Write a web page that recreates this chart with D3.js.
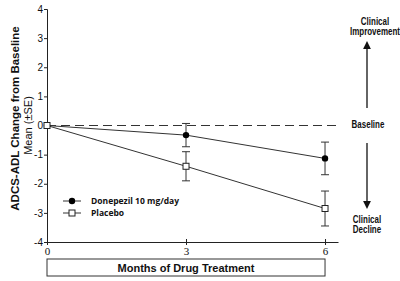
<!DOCTYPE html>
<html>
<head>
<meta charset="utf-8">
<script src="https://cdn.jsdelivr.net/npm/d3@7"></script>
<style>
  body { margin: 0; background: #fff; }
  text { font-family: "Liberation Sans", Arial, sans-serif; fill: #111; }
</style>
</head>
<body>
<div class="canvas"></div>
<script>
// data
const months = [0, 3, 6]
const donepezilMean = [0, -0.33, -1.13]
const donepezilSE = [0, 0.4, 0.56]
const placeboMean = [0, -1.4, -2.85]
const placeboSE = [0, 0.5, 0.6]
const yTicks = [4, 3, 2, 1, 0, -1, -2, -3, -4]
const seriesNames = ['Donepezil 10 mg/day', 'Placebo']

const dimension = { width: 400, height: 281 }
const margin = { left: 47, top: 9, right: 62, bottom: 39 }

const svg = d3.select('.canvas')
  .append('svg')
  .attr('width', dimension.width)
  .attr('height', dimension.height)

const x = d3.scaleLinear().domain([0, 6.28]).range([margin.left, dimension.width - margin.right])
const y = d3.scaleLinear().domain([-4, 4]).range([dimension.height - margin.bottom, margin.top])

// axes
const yAxis = svg.append('g')
  .attr('transform', `translate(${x(0)}, 0)`)
  .call(d3.axisLeft(y).tickValues(yTicks).tickSize(3).tickFormat(d3.format('d')))
yAxis.select('.domain').attr('stroke', '#222')
yAxis.selectAll('.tick line').attr('stroke', '#222')
yAxis.selectAll('text')
  .attr('font-size', 10)
  .attr('x', -4)
  .style('font-family', 'Arial, "Liberation Sans", sans-serif')
  .text(d => d < 0 ? '-' + Math.abs(d) : d)

const xAxis = svg.append('g')
  .attr('transform', `translate(0, ${y(-4)})`)
  .call(d3.axisBottom(x).tickValues(months).tickSize(3).tickSizeOuter(0).tickFormat(d3.format('d')))
xAxis.select('.domain').attr('stroke', '#222')
xAxis.selectAll('.tick line').attr('stroke', '#222').attr('y1', -3)
xAxis.selectAll('text')
  .attr('font-size', 11)
  .attr('y', 5)
  .style('font-family', '"Liberation Serif", "Times New Roman", serif')

// baseline dashed
svg.append('line')
  .attr('x1', x(0)).attr('x2', x(6.28))
  .attr('y1', y(0)).attr('y2', y(0))
  .attr('stroke', '#333')
  .attr('stroke-dasharray', '9,5')

// y titles
svg.append('text')
  .attr('transform', `translate(19, ${y(0) - 7}) rotate(-90)`)
  .attr('text-anchor', 'middle')
  .attr('font-size', 11.5)
  .attr('font-weight', 'bold')
  .text('ADCS-ADL Change from Baseline')
svg.append('text')
  .attr('transform', `translate(32, ${y(0)}) rotate(-90)`)
  .attr('text-anchor', 'middle')
  .attr('font-size', 11)
  .text('Mean (±SE)')

// x title box
svg.append('rect')
  .attr('x', x(0)).attr('y', 259)
  .attr('width', x(6) - x(0)).attr('height', 17)
  .attr('fill', 'none').attr('stroke', '#333')
svg.append('text')
  .attr('x', (x(0) + x(6)) / 2).attr('y', 272)
  .attr('text-anchor', 'middle')
  .attr('font-size', 11)
  .attr('font-weight', 'bold')
  .text('Months of Drug Treatment')

// series
const series = [
  { name: seriesNames[0], mean: donepezilMean, se: donepezilSE, filled: true },
  { name: seriesNames[1], mean: placeboMean, se: placeboSE, filled: false }
]

const line = d3.line().x((d, i) => x(months[i])).y(d => y(d))

series.forEach(s => {
  svg.append('path')
    .attr('d', line(s.mean))
    .attr('fill', 'none')
    .attr('stroke', '#333')
    .attr('stroke-width', 1)

  // error bars
  s.mean.forEach((m, i) => {
    if (s.se[i] === 0) return
    const g = svg.append('g').attr('stroke', '#333')
    g.append('line').attr('x1', x(months[i])).attr('x2', x(months[i]))
      .attr('y1', y(m + s.se[i])).attr('y2', y(m - s.se[i]))
    ;[m + s.se[i], m - s.se[i]].forEach(v => {
      g.append('line').attr('x1', x(months[i]) - 4).attr('x2', x(months[i]) + 4)
        .attr('y1', y(v)).attr('y2', y(v))
    })
  })
})

const drawMarker = (filled, cx, cy) => {
  if (filled) {
    svg.append('circle').attr('cx', cx).attr('cy', cy).attr('r', 3.2).attr('fill', '#000')
  } else {
    svg.append('rect').attr('x', cx - 3).attr('y', cy - 3).attr('width', 6).attr('height', 6)
      .attr('fill', '#fff').attr('stroke', '#222')
  }
}

series.forEach(s => {
  s.mean.forEach((m, i) => drawMarker(s.filled, x(months[i]), y(m)))
})

// legend
series.forEach((s, i) => {
  const ly = 201 + i * 12
  svg.append('line').attr('x1', 63).attr('x2', 81).attr('y1', ly).attr('y2', ly).attr('stroke', '#333')
  drawMarker(s.filled, 72, ly)
  svg.append('text')
    .attr('x', 91).attr('y', ly + 3)
    .attr('font-size', 8.5)
    .attr('font-weight', 'bold')
    .style('font-family', '"Open Sans", "Noto Sans", sans-serif')
    .text(s.name)
})

// right annotations
const ax = 367
svg.append('defs').append('marker')
  .attr('id', 'arrow')
  .attr('viewBox', '0 0 10 10')
  .attr('refX', 5).attr('refY', 5)
  .attr('markerWidth', 6).attr('markerHeight', 6)
  .attr('orient', 'auto-start-reverse')
  .append('path').attr('d', 'M0,0 L10,5 L0,10 z').attr('fill', '#111')

svg.append('line').attr('x1', ax).attr('x2', ax).attr('y1', 108).attr('y2', 45)
  .attr('stroke', '#111').attr('stroke-width', 1.3).attr('marker-end', 'url(#arrow)')
svg.append('line').attr('x1', ax).attr('x2', ax).attr('y1', 143).attr('y2', 205)
  .attr('stroke', '#111').attr('stroke-width', 1.3).attr('marker-end', 'url(#arrow)')

// narrow bold labels: squeeze horizontally
const annot = (lines, cx, cy) => {
  lines.forEach((t, i) => {
    svg.append('text')
      .attr('transform', `translate(${cx}, ${cy + i * 10}) scale(0.76, 1)`)
      .attr('text-anchor', 'middle')
      .attr('font-size', 10.5)
      .attr('font-weight', 'bold')
      .text(t)
  })
}
annot(['Clinical', 'Improvement'], 375, 25)
annot(['Baseline'], 368, 128)
annot(['Clinical', 'Decline'], 367, 223)
</script>
</body>
</html>
